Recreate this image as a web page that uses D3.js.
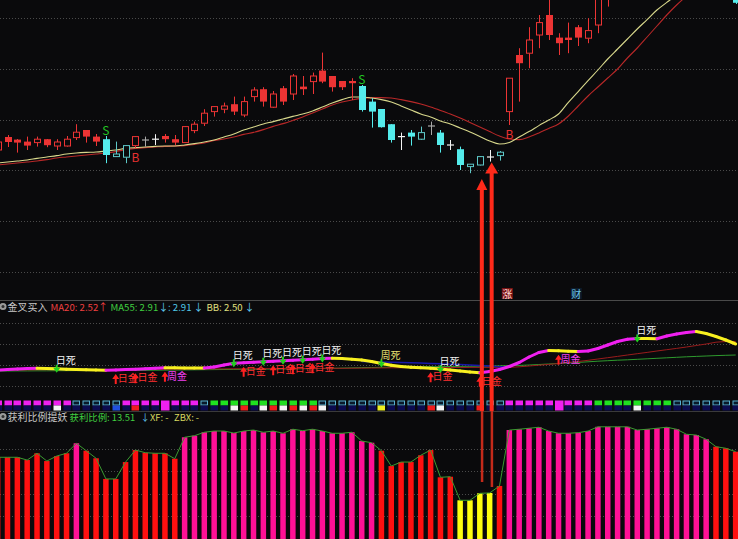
<!DOCTYPE html>
<html><head><meta charset="utf-8">
<script src="https://cdn.jsdelivr.net/npm/d3@7/dist/d3.min.js"></script>
<style>
html,body{margin:0;padding:0;background:#0a0a0c;overflow:hidden;}
svg{display:block;}
text{font-family:"Noto Sans CJK SC","Liberation Sans",sans-serif;}
</style></head><body>
<svg id="c" width="738" height="539"></svg>
<script>
// ---------------- DATA ----------------
const opens  = [2.250,2.315,2.302,2.292,2.287,2.304,2.270,2.270,2.312,2.350,2.317,2.304,2.217,2.214,2.272,2.300,2.304,2.320,2.304,2.287,
                2.347,2.384,2.442,2.454,2.479,2.425,2.517,2.554,2.464,2.559,2.530,2.567,2.592,2.647,2.620,2.595,2.595,2.570,2.492,2.455,
                2.379,2.317,2.337,2.304,2.370,2.337,2.275,2.254,2.167,2.175,2.215,2.222,2.442,2.725,2.734,2.825,2.925,2.812,2.812,2.864,
                2.809,2.875,3.020,3.10,3.20,3.26,3.35,3.30,3.42,3.50,3.58,3.66,3.72,3.85,3.80,3.80];
const highs  = [2.305,2.325,2.305,2.317,2.317,2.305,2.304,2.320,2.379,2.350,2.330,2.320,2.292,2.275,2.320,2.317,2.329,2.330,2.325,2.370,
                2.392,2.454,2.470,2.487,2.517,2.517,2.564,2.564,2.545,2.570,2.630,2.620,2.637,2.737,2.620,2.595,2.609,2.575,2.509,2.455,
                2.379,2.337,2.350,2.367,2.392,2.350,2.300,2.267,2.180,2.220,2.250,2.245,2.610,2.759,2.864,2.925,3.025,2.834,2.887,2.875,
                2.909,3.050,3.130,3.22,3.30,3.38,3.40,3.45,3.55,3.62,3.70,3.80,3.88,3.95,3.90,3.82];
const lows   = [2.240,2.265,2.237,2.250,2.267,2.264,2.250,2.267,2.300,2.287,2.270,2.184,2.215,2.184,2.259,2.267,2.275,2.287,2.275,2.285,
                2.334,2.370,2.417,2.434,2.425,2.414,2.492,2.467,2.460,2.475,2.500,2.525,2.530,2.584,2.542,2.550,2.500,2.442,2.362,2.362,
                2.287,2.250,2.272,2.300,2.325,2.237,2.250,2.150,2.134,2.173,2.192,2.197,2.375,2.492,2.659,2.759,2.800,2.725,2.734,2.770,
                2.784,2.834,2.967,3.08,3.15,3.22,3.25,3.28,3.38,3.45,3.52,3.60,3.68,3.75,3.70,2.980];
const closes = [2.290,2.290,2.287,2.272,2.304,2.274,2.290,2.304,2.339,2.317,2.292,2.225,2.230,2.272,2.317,2.300,2.304,2.304,2.287,2.367,
                2.379,2.434,2.467,2.470,2.442,2.492,2.550,2.492,2.530,2.492,2.620,2.554,2.620,2.592,2.564,2.564,2.584,2.450,2.442,2.364,
                2.300,2.317,2.317,2.337,2.370,2.275,2.275,2.175,2.179,2.217,2.215,2.239,2.609,2.684,2.800,2.887,2.825,2.784,2.800,2.812,
                2.847,3.025,3.100,3.20,3.26,3.35,3.30,3.42,3.50,3.58,3.66,3.72,3.85,3.80,3.86,2.986];
// candle colour state: R red trend, C cyan trend, W white doji, G grey doji
const candleState = ['R','R','R','R','R','R','R','R','R','R','R','C','C','C','R','G','W','R','R','R',
                     'R','R','R','R','R','R','R','R','R','R','R','R','R','R','R','R','R','C','C','C',
                     'C','W','C','C','G','C','W','C','C','C','W','C','R','R','R','R','R','R','R','R',
                     'R','R','R','R','R','R','R','R','R','R','R','R','R','R','R','C'];
const maShort = [2.185,2.190,2.195,2.200,2.208,2.215,2.222,2.230,2.235,2.238,2.240,2.245,2.250,2.258,2.262,2.265,2.268,2.270,2.270,2.275,
                 2.282,2.290,2.300,2.315,2.330,2.350,2.365,2.380,2.392,2.405,2.418,2.430,2.445,2.465,2.485,2.502,2.515,2.515,2.510,2.502,
                 2.490,2.470,2.450,2.430,2.415,2.395,2.380,2.360,2.340,2.318,2.295,2.280,2.288,2.315,2.342,2.372,2.400,2.430,2.488,2.542,
                 2.597,2.650,2.705,2.755,2.805,2.855,2.902,2.950,2.988,3.025,3.065,3.105,3.145,3.185,3.225,3.265];
const maLong  = [2.175,2.180,2.185,2.190,2.195,2.202,2.210,2.215,2.220,2.225,2.230,2.235,2.242,2.252,2.258,2.262,2.265,2.268,2.270,2.272,
                 2.278,2.285,2.298,2.305,2.315,2.328,2.338,2.352,2.368,2.382,2.398,2.415,2.435,2.455,2.475,2.490,2.500,2.508,2.512,2.512,
                 2.510,2.502,2.492,2.480,2.465,2.448,2.430,2.410,2.388,2.365,2.342,2.320,2.305,2.302,2.315,2.335,2.358,2.380,2.420,2.470,
                 2.520,2.565,2.610,2.655,2.710,2.760,2.815,2.870,2.925,2.975,3.020,3.065,3.110,3.155,3.200,3.245];
const sellMarks = [11, 37];   // "S"
const buyMarks  = [14, 52];   // "B"
const tagZhang = 52, tagCai = 59;

// middle panel (金叉买入)
const goldLine = [3.00,3.05,3.10,3.15,3.18,3.16,3.12,3.08,3.05,3.02,3.00,2.98,3.00,3.04,3.08,3.12,3.17,3.22,3.22,3.21,
                  3.20,3.19,3.30,3.50,3.67,3.72,3.77,3.82,3.87,3.92,3.97,4.02,4.08,4.14,4.17,4.15,4.08,4.00,3.85,3.65,
                  3.48,3.35,3.27,3.22,3.17,3.10,3.00,2.90,2.80,2.73,2.85,3.05,3.35,3.75,4.30,4.75,4.95,4.92,4.88,4.85,
                  4.90,5.15,5.50,5.85,6.07,6.15,6.14,6.12,6.40,6.60,6.75,6.85,6.65,6.35,6.00,5.60];
const ma20Line = [3.00,3.00,3.01,3.01,3.02,3.02,3.03,3.03,3.04,3.04,3.05,3.05,3.06,3.06,3.07,3.07,3.08,3.08,3.09,3.09,
                  3.10,3.10,3.11,3.11,3.12,3.12,3.13,3.13,3.14,3.14,3.15,3.15,3.16,3.16,3.17,3.17,3.18,3.19,3.20,3.21,
                  3.22,3.22,3.23,3.23,3.24,3.24,3.25,3.25,3.26,3.26,3.27,3.27,3.27,3.32,3.40,3.48,3.56,3.65,3.75,3.85,
                  3.97,4.10,4.23,4.36,4.50,4.63,4.76,4.90,5.03,5.16,5.30,5.45,5.60,5.78,5.85,5.85];
const ma55Line = [2.90,2.90,2.91,2.91,2.92,2.92,2.93,2.93,2.94,2.94,2.95,2.95,2.96,2.96,2.97,2.97,2.98,2.99,3.00,3.01,
                  3.02,3.03,3.04,3.05,3.06,3.07,3.08,3.09,3.10,3.11,3.12,3.13,3.14,3.15,3.17,3.19,3.21,3.23,3.25,3.27,
                  3.29,3.30,3.31,3.32,3.33,3.34,3.35,3.36,3.37,3.38,3.40,3.42,3.44,3.46,3.50,3.55,3.60,3.65,3.70,3.76,
                  3.82,3.88,3.93,3.98,4.02,4.07,4.12,4.17,4.22,4.27,4.32,4.36,4.40,4.44,4.47,4.50];
const bbLine   = [null,null,null,null,null,null,null,null,null,null,null,null,null,null,null,null,null,null,null,null,
                  null,null,null,null,null,null,null,null,null,null,null,null,null,null,null,null,null,3.85,3.83,3.80,
                  3.78,3.75,3.72,3.69,3.65,3.62,3.58,3.54,3.50,3.45,3.40,3.33,3.28,null,null,null,null,null,null,null,
                  null,null,null,null,null,null,null,null,null,null,null,null,null,null,null,null];
const signalIdx  = [6, 12, 14, 17, 24, 25, 27, 28, 29, 30, 31, 32, 33, 39, 44, 45, 49, 57, 65];
const signalType = ['日死','日金','日金','周金','日死','日金','日死','日金','日死','日金','日死','日金','日死','周死','日金','日死','日金','周金','日死'];
const trendState = ('MMMMMMMMCCCCCMMMMMMMMCGGGGGGGGGGGCCCCCCCCCCCCCCCCCCCMMMMMMMMMGGGGGGGGCCCCCCC').split('');

// bottom panel (获利比例提妖)
const profitRatio = [72.6,72.6,72.6,70.1,76.2,69.2,73.7,76.2,85.2,78.5,71.7,53.1,53.1,68.3,79.1,76.7,76.2,76.2,71.3,90.6,
                     92.0,95.1,96.2,96.2,94.4,96.2,97.1,95.1,96.2,94.2,97.8,96.5,97.8,96.2,94.2,94.2,95.1,87.2,85.7,78.5,
                     64.7,68.3,68.3,74.4,79.1,54.6,55.1,33.9,33.9,40.2,40.5,46.8,97.1,97.8,98.7,99.6,96.2,94.2,94.2,94.7,
                     96.2,100,100,100,100,97.1,97.8,98.7,99.6,97.8,93.3,92.6,88.8,82.1,80.7,77.6];
const profitLevel = ['R','R','R','R','R','R','R','R','M','R','R','R','R','R','R','R','R','R','R','M',
                     'M','M','M','M','M','M','M','M','M','M','M','M','M','M','M','M','M','M','M','R',
                     'R','R','R','R','R','R','R','Y','Y','Y','Y','R','M','M','M','M','M','M','M','M',
                     'M','M','M','M','M','M','M','M','M','M','M','M','M','R','R','R'];
const arrowIdx = [49, 50];

// ---------------- DRAW ----------------
const W = 738, H = 539, N = closes.length;
const svg = d3.select('#c');
svg.append('rect').attr('width', W).attr('height', H).attr('fill', '#0a0a0c');

const x = d3.scaleLinear().domain([0, N - 1]).range([-2.34, 735.66]);
const yTop = d3.scaleLinear().domain([1.5, 3.0]).range([300, 0]);
const yMid = d3.scaleLinear().domain([0, 10]).range([400, 300]);
const yBot = d3.scaleLinear().domain([0, 100]).range([538, 426.8]);

const defs = svg.append('defs');
defs.append('clipPath').attr('id', 'clipTop').append('rect').attr('x', 0).attr('y', 0).attr('width', W).attr('height', 299);

function dotted(g, ys) {
  g.selectAll(null).data(ys).enter().append('line')
    .attr('x1', 0).attr('x2', W).attr('y1', d => Math.round(d) + 0.5).attr('y2', d => Math.round(d) + 0.5)
    .attr('stroke', '#4a4a4a').attr('stroke-width', 1).attr('stroke-dasharray', '1,2');
}

// ---- top panel ----
const gTop = svg.append('g').attr('clip-path', 'url(#clipTop)');
dotted(gTop, d3.range(6).map(k => 18 + k * 50.8));

const maLine = d3.line().x((d, i) => x(i)).y(d => yTop(d)).curve(d3.curveMonotoneX);
gTop.append('path').attr('d', maLine(maLong)).attr('fill', 'none').attr('stroke', '#b82828').attr('stroke-width', 1.1);
gTop.append('path').attr('d', maLine(maShort)).attr('fill', 'none').attr('stroke', '#d8d88c').attr('stroke-width', 1.1);

const colRed = '#ec3434', colCyan = '#54ecec', colCyanEdge = '#5ec8c8';
const cg = gTop.append('g');
d3.range(N).forEach(i => {
  const st = candleState[i], cx = Math.round(x(i)) + 0.5;
  const o = opens[i], c = closes[i], h = highs[i], l = lows[i];
  const yo = yTop(o), yc = yTop(c), yh = yTop(h), yl = yTop(l);
  const bw = 7;
  if (st === 'W' || st === 'G') {
    const col = st === 'W' ? '#f4f4f4' : '#a8a8a8';
    cg.append('line').attr('x1', cx).attr('x2', cx).attr('y1', yh).attr('y2', yl).attr('stroke', col);
    cg.append('line').attr('x1', cx - 3.5).attr('x2', cx + 3.5).attr('y1', yo).attr('y2', yo).attr('stroke', col).attr('stroke-width', 1.2);
    return;
  }
  const up = c > o;
  const col = st === 'R' ? colRed : (up ? colCyanEdge : colCyan);
  const top = Math.min(yo, yc), bot = Math.max(yo, yc);
  if (up) {
    cg.append('line').attr('x1', cx).attr('x2', cx).attr('y1', yh).attr('y2', top).attr('stroke', col);
    cg.append('line').attr('x1', cx).attr('x2', cx).attr('y1', bot).attr('y2', yl).attr('stroke', col);
    cg.append('rect').attr('x', cx - 3).attr('y', top).attr('width', bw - 1).attr('height', Math.max(1, bot - top))
      .attr('fill', '#0a0a0c').attr('stroke', col).attr('stroke-width', 1);
  } else {
    cg.append('line').attr('x1', cx).attr('x2', cx).attr('y1', yh).attr('y2', yl).attr('stroke', col);
    cg.append('rect').attr('x', cx - 3.5).attr('y', top).attr('width', bw).attr('height', Math.max(1.5, bot - top))
      .attr('fill', col);
  }
});
// S / B marks
sellMarks.forEach(i => {
  gTop.append('text').attr('x', x(i)).attr('y', yTop(highs[i]) - 1).attr('text-anchor', 'middle')
    .attr('font-family', 'DejaVu Sans Mono').attr('font-size', 12).attr('fill', '#22c422').text('S');
});
buyMarks.forEach(i => {
  gTop.append('text').attr('x', x(i)).attr('y', yTop(lows[i]) + 14).attr('text-anchor', 'middle')
    .attr('font-family', 'DejaVu Sans Mono').attr('font-size', 12).attr('fill', '#e83030').text('B');
});
// 涨 / 财 tags
[[tagZhang, '涨', '#7a1414', '#ffd8d8'], [tagCai, '财', '#0c1c2c', '#6cc8ec']].forEach(([i, t, bg, fg]) => {
  const cx = x(i) - 2;
  gTop.append('rect').attr('x', cx - 5.5).attr('y', 288).attr('width', 11).attr('height', 11).attr('fill', bg);
  gTop.append('text').attr('x', cx).attr('y', 297.5).attr('text-anchor', 'middle').attr('font-size', 10).attr('fill', fg).text(t);
});

// separators
svg.append('line').attr('x1', 0).attr('x2', W).attr('y1', 300.5).attr('y2', 300.5).attr('stroke', '#4a4a4a');

// ---- middle panel ----
const gMid = svg.append('g');
dotted(gMid, [323, 344, 365, 386]);
function header(g, yb, parts) {
  g.append('circle').attr('cx', 3).attr('cy', yb - 4).attr('r', 3.5).attr('fill', '#9a9a9a');
  g.append('circle').attr('cx', 3).attr('cy', yb - 4).attr('r', 1.5).attr('fill', '#303030');
  parts.forEach(p => g.append('text').attr('x', p[0]).attr('y', yb).attr('font-size', p[3] || 10)
    .attr('fill', p[2]).text(p[1]));
}
header(gMid, 310.5, [
  [7.5, '金叉买入', '#c8c8c8'],
  [50.5, 'MA20: 2.52', '#f04040', 9.6], [98, '↑', '#f04040'],
  [110.5, 'MA55: 2.91', '#40d040', 9.6], [158.5, '↓', '#60c8f0'],
  [168, ': 2.91', '#50c8e8', 9.6], [193.5, '↓', '#60c8f0'],
  [206.5, 'BB: 2.50', '#e0e080', 9.6], [244.5, '↓', '#60c8f0']
]);
const midLine = d3.line().defined(d => d != null).x((d, i) => x(i)).y(d => yMid(d));
gMid.append('path').attr('d', midLine(ma55Line)).attr('fill', 'none').attr('stroke', '#2e9a2e').attr('stroke-width', 1);
gMid.append('path').attr('d', midLine(ma20Line)).attr('fill', 'none').attr('stroke', '#9a1c1c').attr('stroke-width', 1);
gMid.append('path').attr('d', midLine(bbLine)).attr('fill', 'none').attr('stroke', '#1818a8').attr('stroke-width', 1.5);
d3.range(N - 1).forEach(i => {
  const rising = goldLine[i + 1] > goldLine[i];
  gMid.append('line').attr('x1', x(i)).attr('y1', yMid(goldLine[i])).attr('x2', x(i + 1)).attr('y2', yMid(goldLine[i + 1]))
    .attr('stroke', rising ? '#f020f0' : '#f8f020').attr('stroke-width', 3).attr('stroke-linecap', 'round');
});
// signals
const sigColor = {'日死': '#f0f0f0', '日金': '#ff3030', '周金': '#f040f0', '周死': '#e8e070'};
signalIdx.forEach((i, k) => {
  const t = signalType[k], cx = x(i), yl = yMid(goldLine[i]);
  if (t === '日死' || t === '周死') {
    gMid.append('path').attr('d', `M${cx - 1},${yl - 4}h2v3h2.5l-3.5,5l-3.5,-5h2.5z`).attr('fill', '#20d020');
    gMid.append('text').attr('x', cx - 1).attr('y', yl - 4.5).attr('font-size', 10).attr('fill', sigColor[t]).text(t);
  } else {
    const tip = yl + 4;
    gMid.append('path').attr('d', `M${cx},${tip}l3.5,5h-2.5v5h-2v-5h-2.5z`).attr('fill', '#ff2020');
    gMid.append('text').attr('x', cx + 2).attr('y', tip + 8).attr('font-size', 10).attr('fill', sigColor[t]).text(t);
  }
});
// state boxes row
const boxG = svg.append('g');
d3.range(N).forEach(i => {
  const cx = Math.round(x(i));
  const s = trendState[i];
  const k = signalIdx.indexOf(i);
  const t = k >= 0 ? signalType[k] : null;
  if (t === '周金') {
    boxG.append('rect').attr('x', cx - 4).attr('y', 400.5).attr('width', 8.5).attr('height', 10).attr('fill', '#f020f0');
    return;
  }
  if (s === 'C') {
    boxG.append('rect').attr('x', cx - 3).attr('y', 401).attr('width', 6.5).attr('height', 4).attr('fill', '#0a1a2a')
      .attr('stroke', '#58b0d0').attr('stroke-width', 1);
  } else {
    boxG.append('rect').attr('x', cx - 3.5).attr('y', 400.5).attr('width', 7.5).attr('height', 5)
      .attr('fill', s === 'M' ? '#f020f0' : '#20e020');
  }
  const bc = t === '日死' ? '#f4f4f4' : t === '日金' ? (i === 12 ? '#2050e0' : '#f01c1c') : t === '周死' ? '#f0f020' : '#0c0c50';
  boxG.append('rect').attr('x', cx - 3.5).attr('y', 405.5).attr('width', 7.5).attr('height', 5).attr('fill', bc);
});
svg.append('line').attr('x1', 0).attr('x2', W).attr('y1', 411.5).attr('y2', 411.5).attr('stroke', '#3a3a3a');

// ---- bottom panel ----
const gBot = svg.append('g');
dotted(gBot, [20, 40, 60, 80].map(v => yBot(v)));
header(gBot, 420.5, [
  [7.5, '获利比例提妖', '#c8c8c8'],
  [69.5, '获利比例: 13.51', '#40d040', 9.4], [140.5, '↓', '#60c8f0', 9.4],
  [150, 'XF: -', '#d8d860', 9.4],
  [174, 'ZBX: -', '#d8d860', 9.4]
]);
const barCol = {R: '#ff1010', M: '#ff1096', Y: '#ffff10'};
gBot.selectAll('rect.bar').data(profitRatio).enter().append('rect')
  .attr('x', (d, i) => x(i) - 2.75).attr('y', d => yBot(d)).attr('width', 5.5)
  .attr('height', d => H - yBot(d) + 1).attr('fill', (d, i) => barCol[profitLevel[i]]);
gBot.append('path').attr('d', d3.line().x((d, i) => x(i)).y(d => yBot(d))(profitRatio))
  .attr('fill', 'none').attr('stroke', '#3a9a30').attr('stroke-width', 1);

// ---- big arrows ----
const arrowSpec = [{tip: 179, head: 11, end: 482, hw: 5.5}, {tip: 162.5, head: 11, end: 487, hw: 6.5}];
arrowIdx.forEach((i, k) => {
  const a = arrowSpec[k], cx = x(i) + 2;
  svg.append('rect').attr('x', cx - 2).attr('y', a.tip + a.head - 1).attr('width', 4).attr('height', 412 - a.tip - a.head)
    .attr('fill', '#ff2a1a');
  svg.append('rect').attr('x', cx - 1).attr('y', 411).attr('width', 2.5).attr('height', a.end - 411).attr('fill', '#c42a1a');
  svg.append('path').attr('d', `M${cx},${a.tip}L${cx + a.hw},${a.tip + a.head}L${cx - a.hw},${a.tip + a.head}Z`).attr('fill', '#ff2a1a');
});
</script>
</body></html>
